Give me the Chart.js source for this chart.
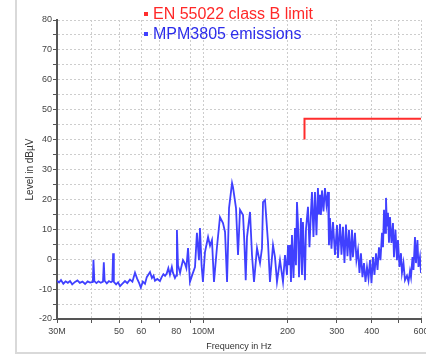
<!DOCTYPE html>
<html>
<head>
<meta charset="utf-8">
<script src="https://cdn.jsdelivr.net/npm/chart.js@4.4.0/dist/chart.umd.min.js"></script>
<style>
html, body { margin: 0; padding: 0; background: #fff; }
#wrap { position: relative; width: 426px; height: 355px; }
</style>
</head>
<body>
<div id="wrap"><canvas id="myChart" width="426" height="355"></canvas></div>
<script>
// limit line (EN 55022 class B)
const limitFreq = [230, 230, 600];
const limitLevel = [40, 47, 47];

const emiFreq = [
  30.0, 30.5, 31.0, 31.6, 32.2, 32.8, 33.4, 34.0, 34.8, 35.5,
  36.2, 37.0, 37.8, 38.6, 39.4, 40.3, 40.5, 40.8, 41.5, 42.2,
  43.0, 43.8, 44.1, 44.4, 45.2, 46.0, 46.8, 47.3, 47.6, 47.9,
  48.8, 49.6, 50.4, 51.4, 52.5, 53.5, 54.7, 55.8, 57.0, 58.0,
  59.0, 59.8, 60.8, 61.9, 62.8, 63.6, 64.5, 65.5, 66.4, 67.2,
  68.5, 70.0, 71.0, 72.0, 73.0, 74.0, 75.0, 76.0, 77.2, 77.9,
  79.2, 80.0, 80.5, 81.2, 82.6, 83.5, 84.6, 86.0, 87.0, 88.2,
  89.6, 91.5, 93.4, 94.9, 96.5, 97.3, 98.6, 99.7, 101.4, 104.0,
  105.7, 107.4, 109.2, 111.9, 114.7, 117.6, 119.6, 121.6, 123.6, 126.7,
  127.7, 130.9, 133.1, 135.3, 138.7, 140.2, 141.8, 143.3, 146.9, 149.3,
  151.8, 155.6, 159.5, 162.1, 163.5, 166.2, 170.3, 173.1, 177.5, 180.4,
  183.4, 188.0, 192.7, 195.9, 199.1, 200.8, 202.4, 204.1, 205.8, 207.5,
  210.1, 212.7, 214.4, 216.2, 218.0, 219.8, 223.4, 225.3, 227.1, 230.9,
  232.8, 236.7, 239.6, 242.6, 244.6, 247.6, 250.7, 253.8, 256.9, 259.1,
  261.3, 263.3, 265.6, 268.9, 272.2, 275.6, 279.1, 281.3, 283.7, 287.2,
  290.8, 295.6, 300.5, 303.0, 308.1, 311.8, 315.7, 319.6, 323.6, 327.6,
  331.7, 335.8, 340.0, 342.6, 348.4, 352.7, 357.2, 361.6, 366.0, 370.6,
  375.3, 379.9, 384.7, 389.5, 394.4, 399.1, 404.2, 409.1, 414.3, 419.5,
  424.6, 429.8, 435.3, 438.9, 442.5, 446.2, 449.8, 453.5, 457.2, 461.0,
  464.9, 470.6, 476.4, 480.3, 486.3, 492.3, 496.4, 502.6, 508.8, 513.0,
  519.4, 525.8, 534.6, 541.3, 548.0, 552.5, 559.4, 564.0, 571.0, 575.7,
  582.8, 587.6, 594.9, 600.0
];
const emiLevel = [
  -7.2, -7.8, -7.0, -8.2, -7.4, -7.9, -7.3, -8.4, -7.6, -7.1,
  -7.9, -7.5, -8.3, -7.4, -7.8, -7.6, -0.2, -7.3, -8.0, -7.4,
  -7.9, -7.5, -1.0, -7.2, -8.1, -7.3, -7.7, -7.4, 2.0, -7.6,
  -8.4, -7.7, -9.0, -8.2, -7.3, -8.0, -6.8, -7.5, -4.5, -6.5,
  -8.0, -9.5, -7.5, -8.2, -6.0, -5.2, -4.3, -6.3, -5.5, -7.2,
  -6.6, -7.3, -6.0, -5.0, -5.6, -4.8, -3.0, -5.2, -2.6, -4.5,
  -6.3, -5.5, 9.8, -2.0, -4.6, -2.5, -0.3, -1.5, -3.0, 3.7,
  -7.6, -5.0, -2.6, 8.8, -0.3, 10.4, -2.0, -7.6, 2.4, 7.4,
  4.5, 6.4, -7.6, 4.0, 14.1, 12.1, 9.1, -7.6, 17.1, 25.5,
  24.1, 17.1, 1.4, 16.5, 14.8, 5.8, -7.0, 7.4, 15.8, 1.4,
  -7.6, 3.7, -1.3, 3.7, 19.1, 19.8, 5.8, -7.6, 4.7, 0.7,
  -7.6, -0.3, -7.6, 1.4, -5.3, 4.7, -2.0, 4.7, -7.6, 8.1,
  -6.3, 10.4, -2.0, 19.1, 12.0, -6.0, 13.8, -5.3, 12.4, -7.0,
  10.0, 17.5, 4.0, 16.0, 22.5, 7.4, 22.5, 8.0, 23.8, 15.0,
  21.5, 14.8, 23.0, 16.0, 23.8, 18.1, 22.5, 4.7, 13.8, 3.5,
  12.4, 1.4, 11.4, 0.4, 11.8, 1.5, 10.8, -1.3, 11.6, 1.0,
  9.8, -0.5, 9.8, 0.7, 8.8, -0.3, 3.0, -4.6, 2.0, -6.0,
  -1.3, -7.6, -2.6, -6.5, -0.3, -8.0, 0.7, -5.3, 2.0, -3.6,
  4.0, -0.3, 8.8, 4.0, 16.5, 8.8, 20.5, 11.0, 15.5, 5.5,
  14.1, 5.4, 12.1, 0.7, 9.8, -0.3, 6.4, -2.6, 2.0, -4.6,
  -1.3, -7.0, -5.5, -7.6, -4.0, -6.0, 0.7, -3.6, 7.4, -1.3,
  6.4, -2.6, 0.7, -4.6
];

// axis ticks
const xTickValues = [30, 40, 50, 60, 70, 80, 90, 100, 200, 300, 400, 500, 600];
const xTickText = ['30M', '', '50', '60', '', '80', '', '100M', '200', '300', '400', '', '600'];
const yMin = -20, yMax = 80, yStep = 5;

const toPoints = (xs, ys) => xs.map((x, i) => ({ x: x, y: ys[i] }));

const frame = {
  id: 'frame',
  beforeDraw(chart) {
    const c = chart.ctx;
    c.save();
    c.strokeStyle = '#d9d9d9';
    c.lineWidth = 2;
    c.beginPath();
    c.moveTo(16, 0);
    c.lineTo(16, 353);
    c.lineTo(426, 353);
    c.stroke();
    c.restore();
  }
};

const cornerLegend = {
  id: 'cornerLegend',
  afterDraw(chart) {
    const c = chart.ctx;
    c.save();
    c.font = '16px "Liberation Sans", Arial, sans-serif';
    c.textBaseline = 'middle';
    chart.data.datasets.forEach((ds, i) => {
      const y = 14 + i * 20;
      c.fillStyle = ds.borderColor;
      c.fillRect(144, y - 2, 4, 4);
      c.fillStyle = ds.textColor;
      c.fillText(ds.label, 153, y + 1);
    });
    c.restore();
  }
};

const ctx = document.getElementById('myChart');
const myChart = new Chart(ctx, {
  type: 'line',
  data: {
    datasets: [{
      label: 'EN 55022 class B limit',
      data: toPoints(limitFreq, limitLevel),
      borderColor: 'rgb(255, 45, 45)',
      textColor: 'rgb(255, 40, 40)',
      borderWidth: 2,
      pointRadius: 0,
      tension: 0
    }, {
      label: 'MPM3805 emissions',
      data: toPoints(emiFreq, emiLevel),
      borderColor: 'rgb(64, 64, 255)',
      textColor: 'rgb(45, 45, 235)',
      borderWidth: 1.8,
      pointRadius: 0,
      tension: 0
    }]
  },
  options: {
    responsive: false,
    animation: false,
    devicePixelRatio: 1,
    layout: { padding: { top: 20, right: 5, left: 0, bottom: 0 } },
    plugins: { legend: { display: false }, tooltip: { enabled: false } },
    scales: {
      x: {
        type: 'logarithmic',
        min: 30,
        max: 600,
        afterBuildTicks: s => { s.ticks = xTickValues.map(v => ({ value: v })); },
        afterFit: s => { s.height = 36; s.paddingLeft = 0; s.paddingRight = 0; },
        ticks: {
          autoSkip: false,
          maxRotation: 0,
          padding: 3,
          color: '#444',
          font: { size: 9, family: '"Liberation Sans", Arial, sans-serif' },
          callback: (v, i) => xTickText[i]
        },
        grid: {
          color: c => (c.tick && c.tick.value === 80) ? 'rgba(0,0,0,0)' : '#cdcdcd',
          tickColor: c => (c.tick && c.tick.value === 80) ? 'rgba(0,0,0,0)' : '#555',
          tickLength: 4,
          tickBorderDash: []
        },
        border: { color: '#555', width: 2, dash: [2, 2] },
        title: {
          display: true,
          text: 'Frequency in Hz',
          color: '#333',
          font: { size: 9, family: '"Liberation Sans", Arial, sans-serif' },
          padding: { top: 0, bottom: 3 }
        }
      },
      y: {
        min: yMin,
        max: yMax,
        afterFit: s => { s.width = 57; s.paddingTop = 0; s.paddingBottom = 0; },
        ticks: {
          stepSize: yStep,
          padding: 1,
          color: '#444',
          font: { size: 9, family: '"Liberation Sans", Arial, sans-serif' },
          callback: v => (v % 10 === 0 ? v : '')
        },
        grid: { color: '#cdcdcd', tickColor: '#555', tickLength: 4, tickBorderDash: [] },
        border: { color: '#555', width: 2, dash: [2, 2] },
        title: {
          display: true,
          text: 'Level in dBµV',
          color: '#333',
          font: { size: 10, family: '"Liberation Sans", Arial, sans-serif' },
          padding: { top: 24, bottom: 0 }
        }
      }
    }
  },
  plugins: [frame, cornerLegend]
});
</script>
</body>
</html>
